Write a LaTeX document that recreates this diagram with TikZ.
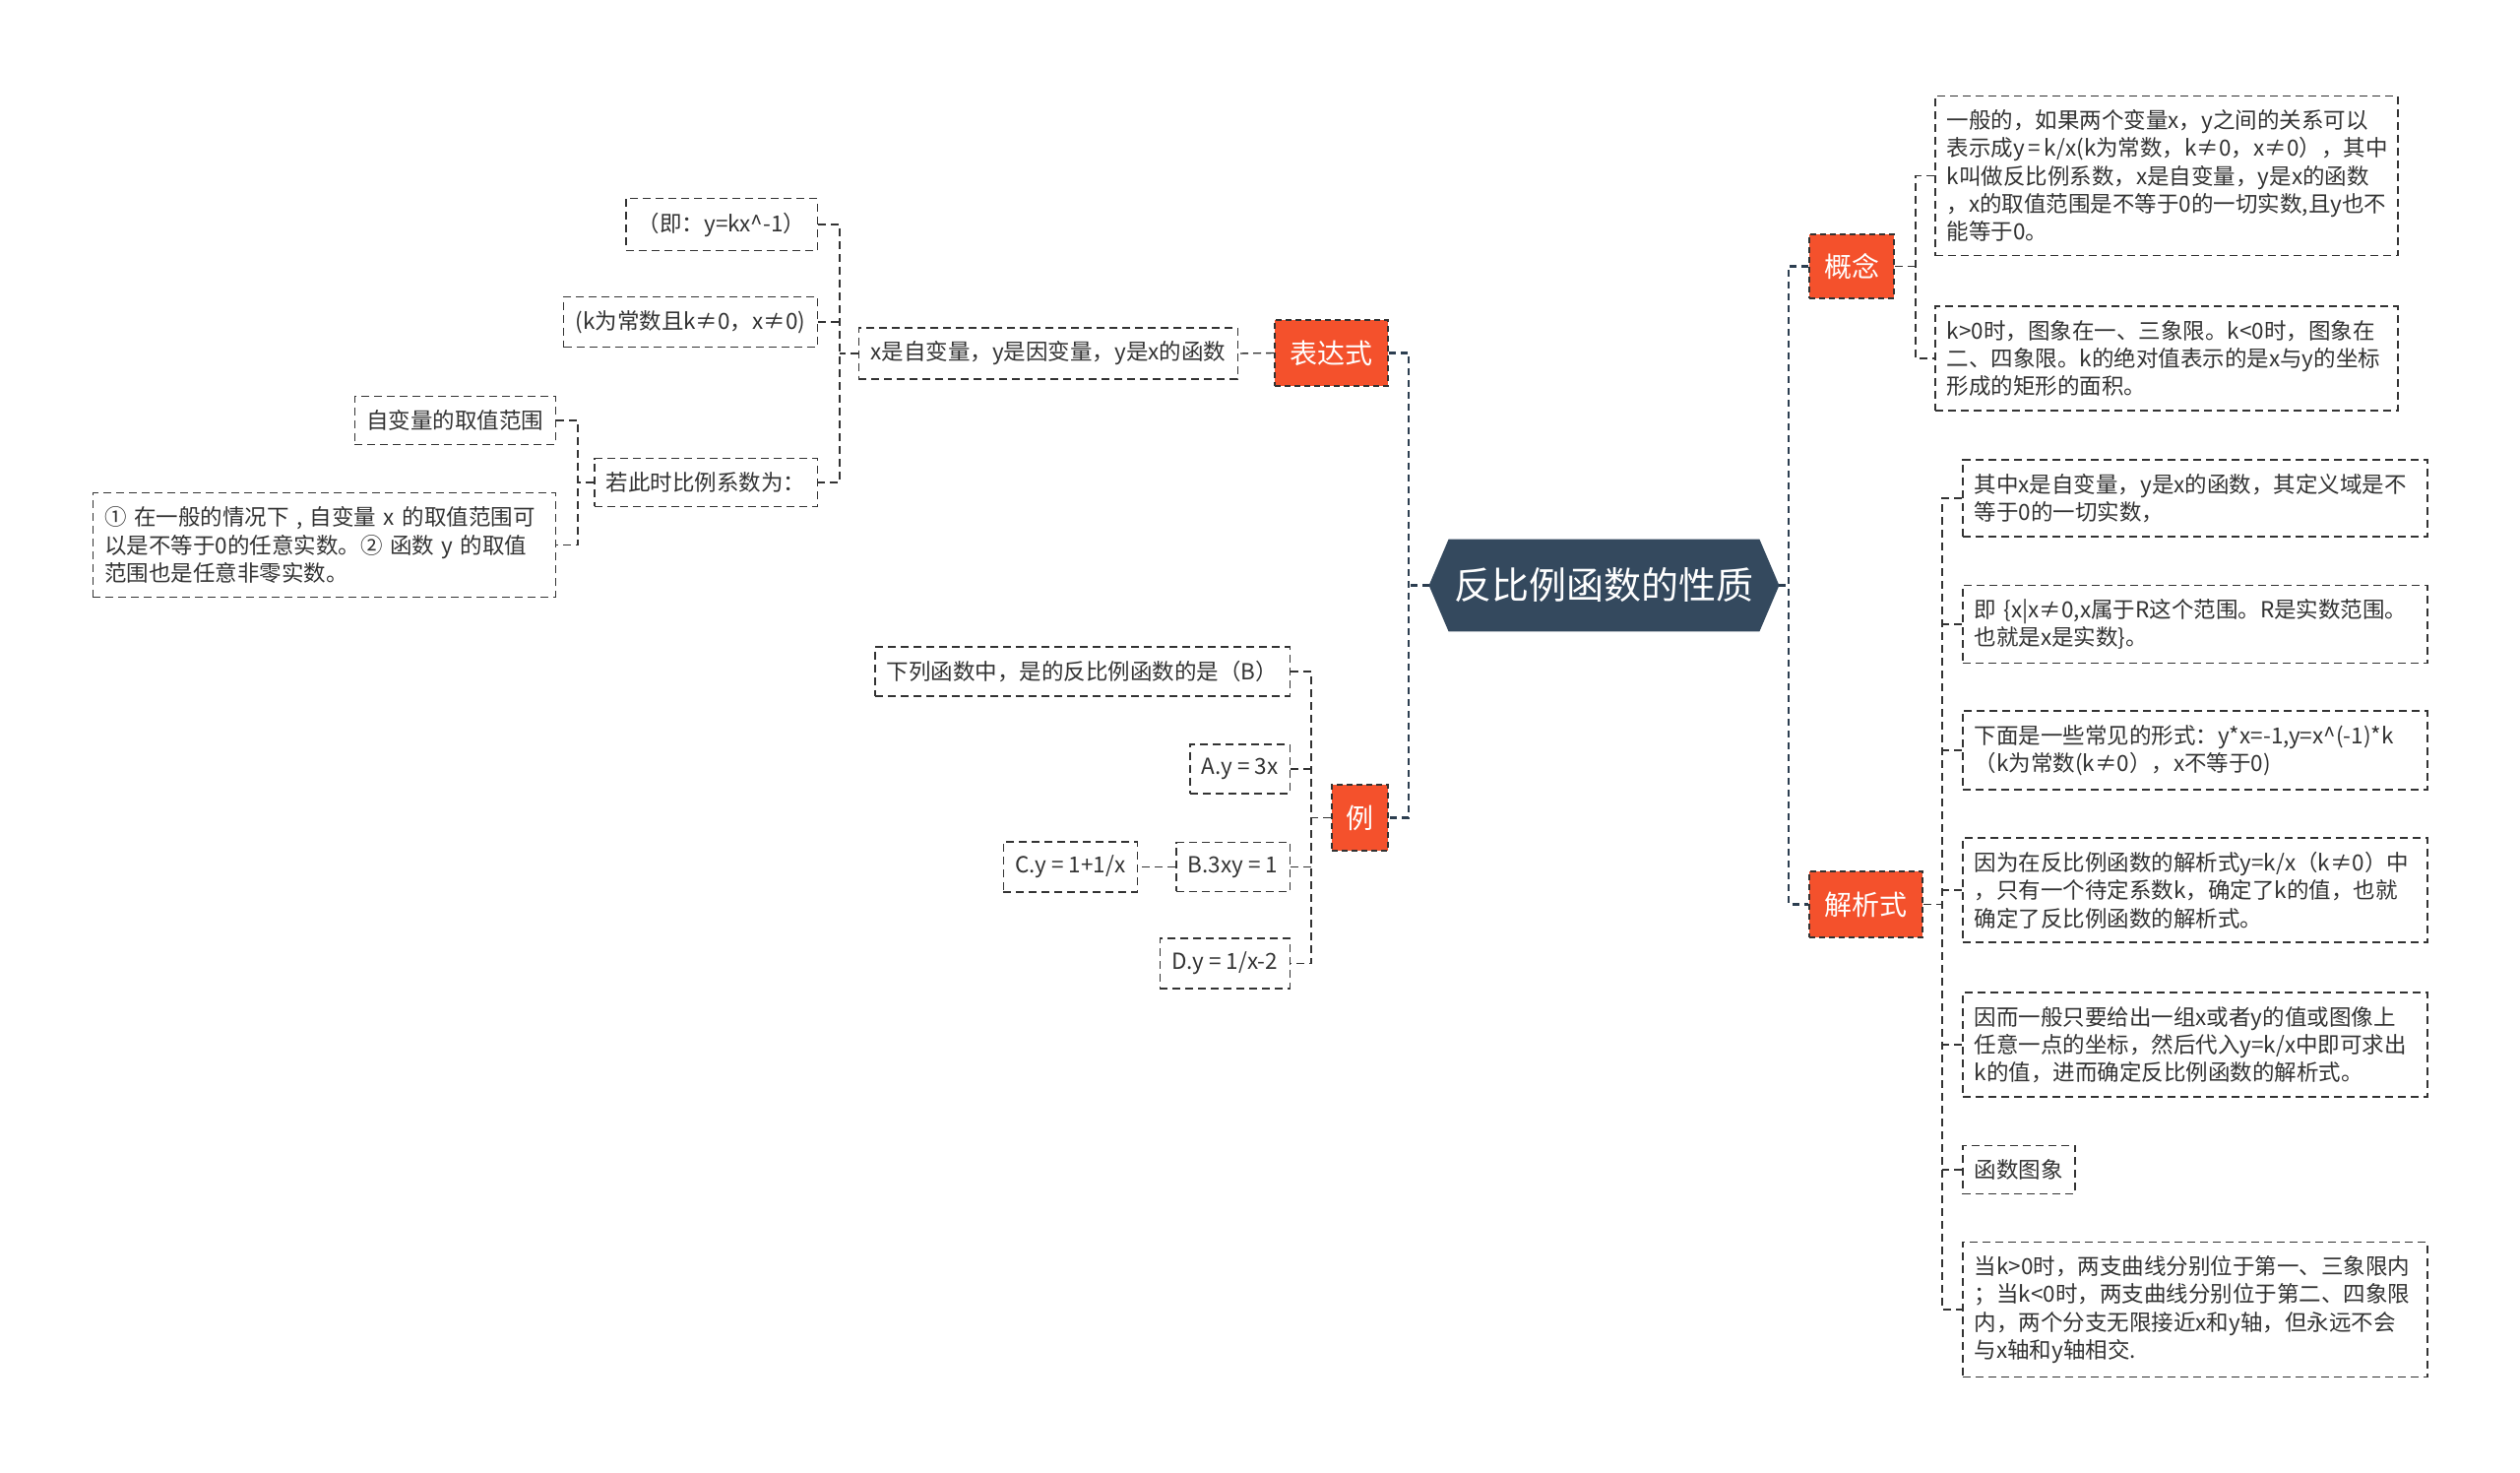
\documentclass[tikz,border=0pt]{standalone}
\usepackage{fontspec}
\usetikzlibrary{positioning,backgrounds}
\newfontfamily\cjk{Noto Sans CJK SC}
\definecolor{ink}{HTML}{333333}
\definecolor{hot}{HTML}{F4512C}
\definecolor{slate}{HTML}{34495E}
\definecolor{wire}{HTML}{2C3E50}
\tikzset{
  leaf/.style={draw=ink,line width=0.75pt,dash pattern=on 4pt off 2.5pt,text=ink,inner xsep=6pt,inner ysep=7pt,font=\cjk\fontsize{11.25}{14.15}\selectfont},
  para/.style={leaf,align=left,text width=#1},
  topic/.style={draw=ink,line width=0.9pt,dash pattern=on 3pt off 2pt,fill=hot,text=white,inner sep=0pt,font=\cjk\fontsize{14}{16}\selectfont},
  root/.style={text=white,inner sep=0pt,minimum width=177.5pt,minimum height=46.5pt,font=\cjk\fontsize{19}{22}\selectfont},
  trunk/.style={draw=wire,line width=1.3pt,dash pattern=on 3.5pt off 2.5pt},
  twig/.style={draw=ink,line width=0.7pt,dash pattern=on 4pt off 2.5pt},
}

\begin{document}
\begin{tikzpicture}[x=0.5pt,y=-0.5pt]
  \useasboundingbox (0,0) rectangle (2560,1495);
  % centre
  \node[root] (root) at (1629.5,594.5) {反比例函数的性质};
  \begin{scope}[on background layer]
    \fill[white] (0,0) rectangle (2560,1495);
    \fill[slate] (root.west) -- ([xshift=10pt]root.north west) -- ([xshift=-10pt]root.north east)
      -- (root.east) -- ([xshift=-10pt]root.south east) -- ([xshift=10pt]root.south west) -- cycle;
  \end{scope}
  % topics
  \node[topic,minimum width=43pt,minimum height=32.5pt] (gn) at (1881,270.5) {概念};
  \node[topic,minimum width=57.5pt,minimum height=33.5pt] (jx) at (1895.5,918.5) {解析式};
  \node[topic,minimum width=57.5pt,minimum height=33.5pt] (bd) at (1352.5,358.5) {表达式};
  \node[topic,minimum width=28.5pt,minimum height=33.5pt] (li) at (1381.5,830.5) {例};
  % right side
  \node[para=223pt,anchor=west] (k1) at (1965,178.5)
    {一般的，如果两个变量x，y之间的关系可以\\表示成y\,=\,k/x(k为常数，k≠0，x≠0），其中\\k叫做反比例系数，x是自变量，y是x的函数\\，x的取值范围是不等于0的一切实数,且y也不\\能等于0。};
  \node[para=223pt,anchor=west] (k2) at (1965,364)
    {k>0时，图象在一、三象限。k<0时，图象在\\二、四象限。k的绝对值表示的是x与y的坐标\\形成的矩形的面积。};
  \node[para=224pt,anchor=west] (j1) at (1993,506)
    {其中x是自变量，y是x的函数，其定义域是不\\等于0的一切实数，};
  \node[para=224pt,anchor=west] (j2) at (1993,634)
    {即~\{x|x≠0,x属于R这个范围。R是实数范围。\\也就是x是实数\}。};
  \node[para=224pt,anchor=west] (j3) at (1993,762)
    {下面是一些常见的形式：y*x=-1,y=x\textasciicircum(-1)*k\\（k为常数(k≠0），x不等于0)};
  \node[para=224pt,anchor=west] (j4) at (1993,904)
    {因为在反比例函数的解析式y=k/x（k≠0）中\\，只有一个待定系数k，确定了k的值，也就\\确定了反比例函数的解析式。};
  \node[para=224pt,anchor=west] (j5) at (1993,1061)
    {因而一般只要给出一组x或者y的值或图像上\\任意一点的坐标，然后代入y=k/x中即可求出\\k的值，进而确定反比例函数的解析式。};
  \node[leaf,anchor=west] (j6) at (1993,1188) {函数图象};
  \node[para=224pt,anchor=west] (j7) at (1993,1330)
    {当k>0时，两支曲线分别位于第一、三象限内\\；当k<0时，两支曲线分别位于第二、四象限\\内，两个分支无限接近x和y轴，但永远不会\\与x轴和y轴相交.};
  % left side
  \node[leaf,anchor=east] (ex) at (1258,359) {x是自变量，y是因变量，y是x的函数};
  \node[leaf,anchor=east] (e1) at (831,228) {（即：y=kx\textasciicircum-1）};
  \node[leaf,anchor=east] (e2) at (831,327) {(k为常数且k≠0，x≠0)};
  \node[leaf,anchor=east] (e3) at (831,490) {若此时比例系数为：};
  \node[leaf,anchor=east] (f1) at (565,427) {自变量的取值范围};
  \node[para=223pt,anchor=east] (f2) at (565,553.5)
    {①~在一般的情况下~,~自变量~x~的取值范围可\\以是不等于0的任意实数。②~函数~y~的取值\\范围也是任意非零实数。};
  \node[leaf,anchor=east] (q0) at (1311,682) {下列函数中，是的反比例函数的是（B）};
  \node[leaf,anchor=east] (qa) at (1311,781) {A.y = 3x};
  \node[leaf,anchor=east] (qb) at (1311,880.5) {B.3xy = 1};
  \node[leaf,anchor=east] (qc) at (1156,880.5) {C.y = 1+1/x};
  \node[leaf,anchor=east] (qd) at (1311,978.5) {D.y = 1/x-2};
  % spines
  \coordinate (ls) at (1431,594.5);
  \coordinate (rs) at (1817,594.5);
  \coordinate (gs) at (1946,270.5);
  \coordinate (js) at (1973,918.5);
  \coordinate (es) at (853,359);
  \coordinate (fs) at (587,490);
  \coordinate (qs) at (1332,830.5);
  % connectors
  \draw[trunk] (root.west) -- (ls);
  \draw[trunk] (bd.east) -| (ls) |- (li.east);
  \draw[trunk] (root.east) -- (rs);
  \draw[trunk] (gn.west) -| (rs) |- (jx.west);
  \draw[twig] (gn.east) -- (gs);
  \draw[twig] (k1.west) -| (gs) |- (k2.west);
  \draw[twig] (jx.east) -- (js);
  \draw[twig] (j1.west) -| (js) |- (j7.west);
  \foreach \n in {j2,j3,j4,j5,j6}
    \draw[twig] (\n.west) -- (\n.west -| js);
  \draw[twig] (bd.west) -- (ex.east);
  \draw[twig] (ex.west) -- (es);
  \draw[twig] (e1.east) -| (es) |- (e3.east);
  \draw[twig] (e2.east) -- (e2.east -| es);
  \draw[twig] (e3.west) -- (fs);
  \draw[twig] (f1.east) -| (fs) |- (f2.east);
  \draw[twig] (li.west) -- (qs);
  \draw[twig] (q0.east) -| (qs) |- (qd.east);
  \foreach \n in {qa,qb}
    \draw[twig] (\n.east) -- (\n.east -| qs);
  \draw[twig] (qb.west) -- (qc.east);
\end{tikzpicture}
\end{document}
